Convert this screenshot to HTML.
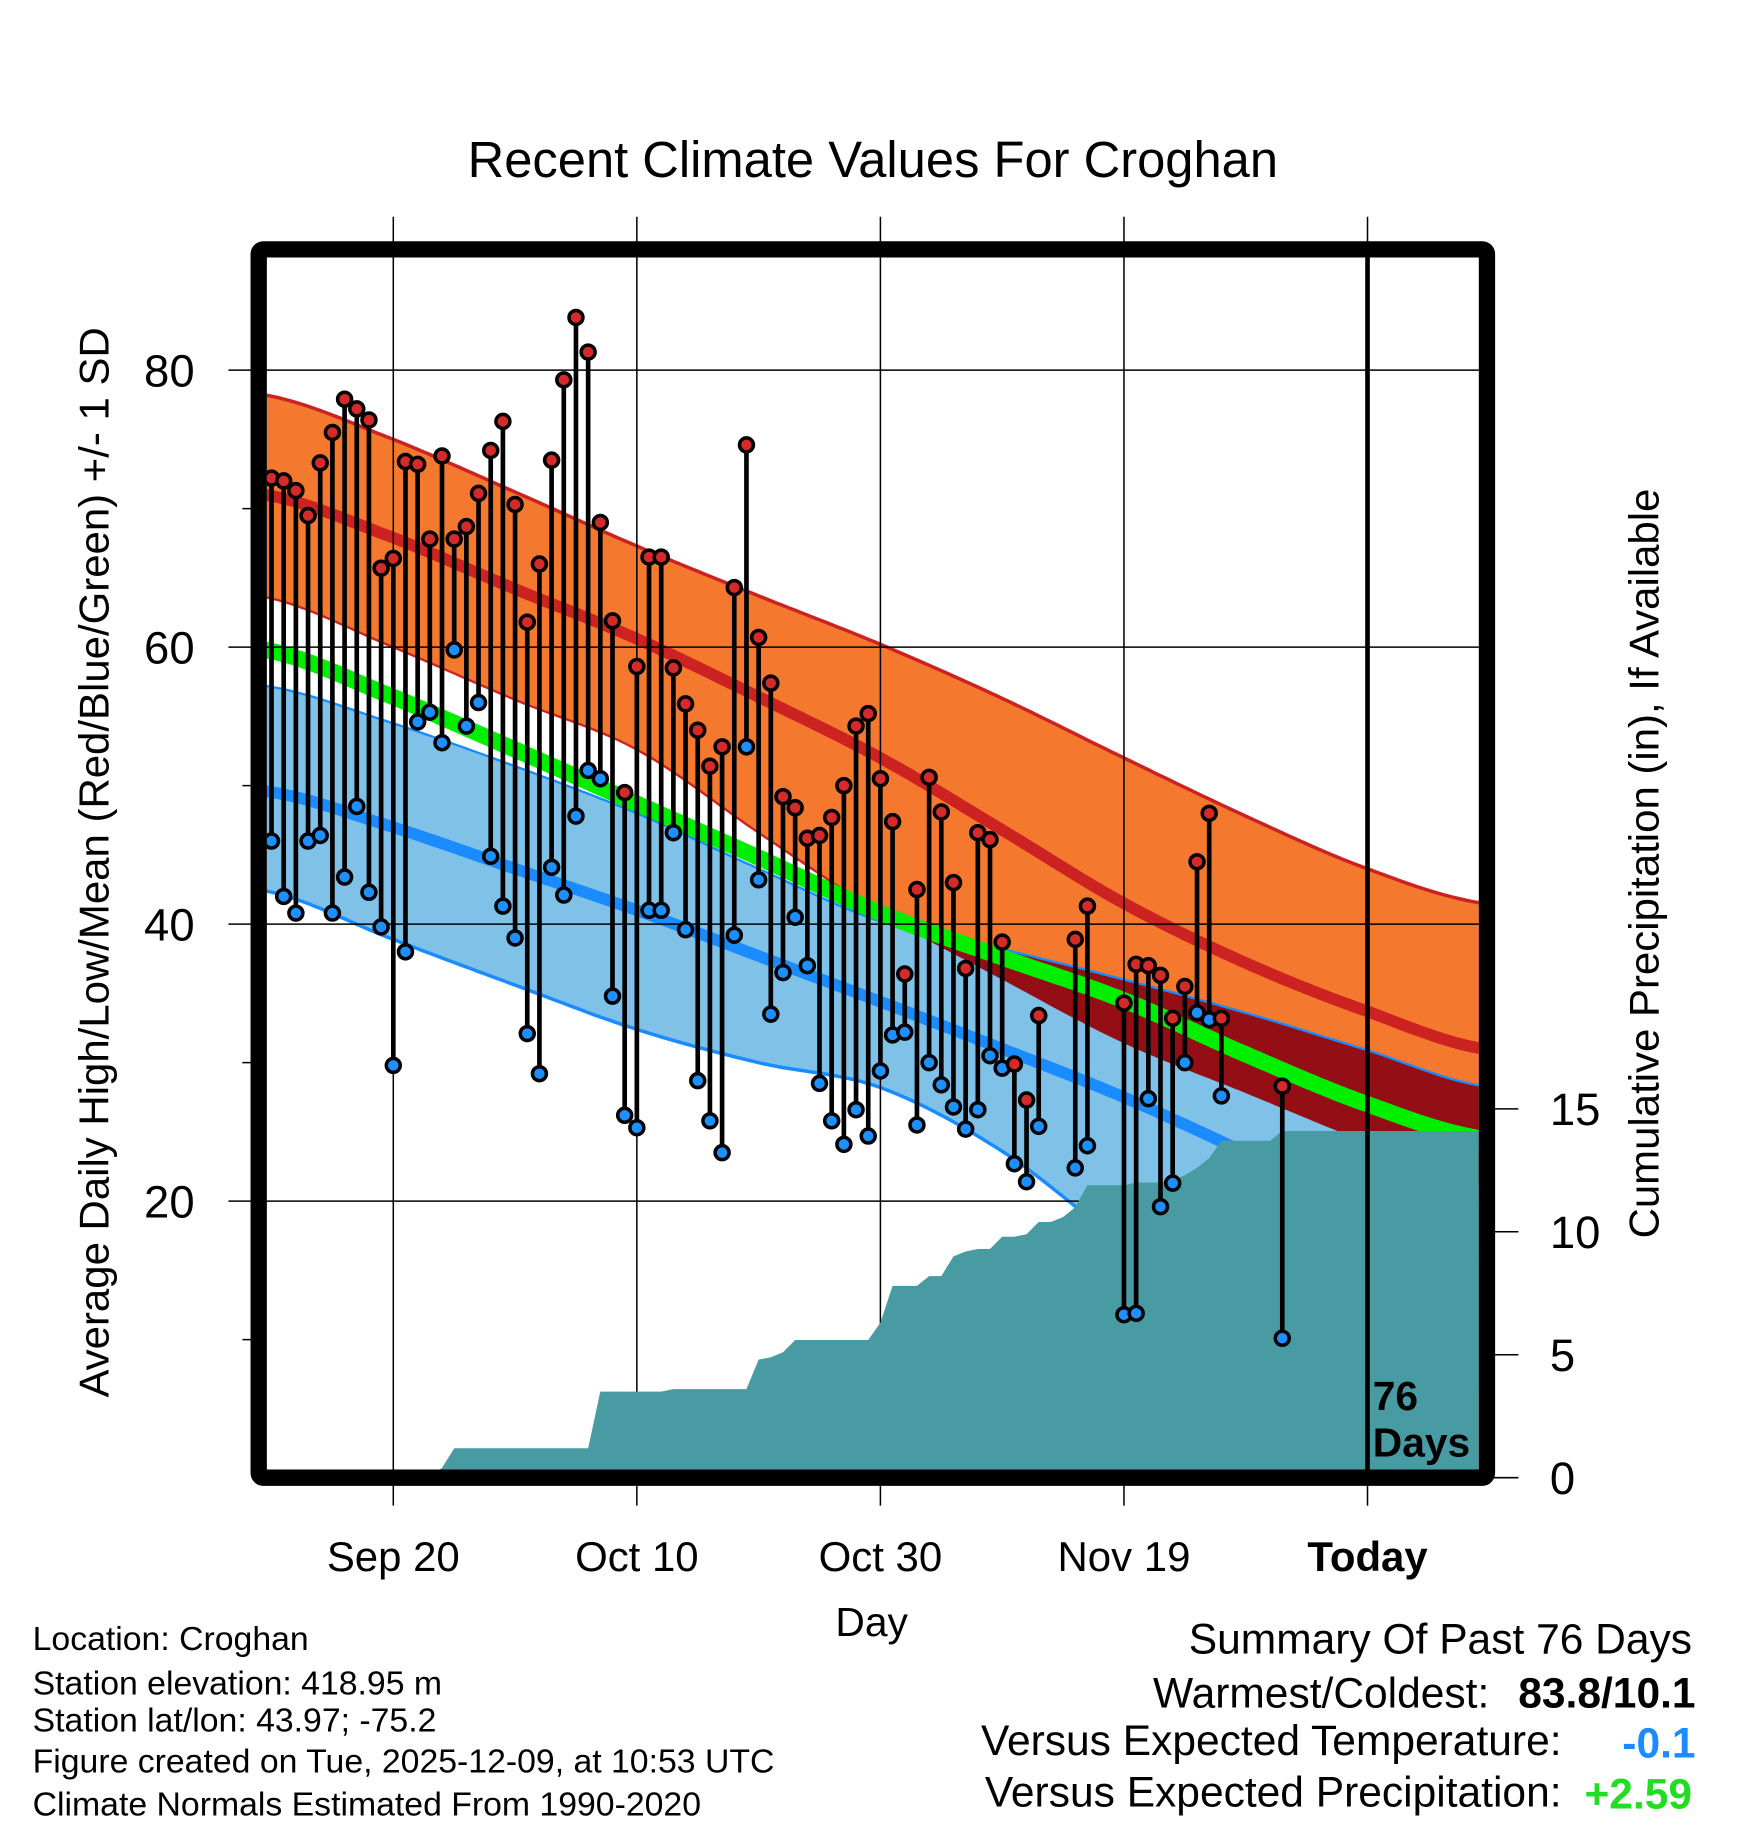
<!DOCTYPE html>
<html><head><meta charset="utf-8"><style>
html,body{margin:0;padding:0;background:#fff}
svg{display:block}
text{font-family:"Liberation Sans",sans-serif}
</style></head><body>
<svg id="chart" xmlns="http://www.w3.org/2000/svg" width="1748" height="1828" viewBox="0 0 1500 1568.6" preserveAspectRatio="none">
<defs><clipPath id="plotclip"><rect x="229" y="220" width="1040" height="1041"/></clipPath></defs>
<rect x="0" y="0" width="1500" height="1568.6" fill="#fff"/>
<text x="749" y="152" font-size="43.5" text-anchor="middle">Recent Climate Values For Croghan</text>
<g id="bands" clip-path="url(#plotclip)"></g>
<g id="grid"></g>
<g id="precip" clip-path="url(#plotclip)"></g>
<g id="marks" clip-path="url(#plotclip)"></g>
<g id="axes"></g>
<rect x="222" y="214" width="1054" height="1054" rx="4" fill="none" stroke="#000" stroke-width="14"/>
<text transform="translate(93,740) rotate(-90)" font-size="36" text-anchor="middle">Average Daily High/Low/Mean (Red/Blue/Green) +/- 1 SD</text>
<text transform="translate(1423,741) rotate(-90)" font-size="36" text-anchor="middle">Cumulative Precipitation (in), If Available</text>
<text x="748" y="1404" font-size="35" text-anchor="middle">Day</text>
<text x="1178" y="1210" font-size="35" font-weight="bold">76</text>
<text x="1178" y="1250" font-size="35" font-weight="bold">Days</text>
<g font-size="29">
<text x="28" y="1416">Location: Croghan</text>
<text x="28" y="1454">Station elevation: 418.95 m</text>
<text x="28" y="1486">Station lat/lon: 43.97; -75.2</text>
<text x="28" y="1521">Figure created on Tue, 2025-12-09, at 10:53 UTC</text>
<text x="28" y="1558">Climate Normals Estimated From 1990-2020</text>
</g>
<g font-size="36.5">
<text x="1452" y="1419" text-anchor="end">Summary Of Past 76 Days</text>
<text x="1278" y="1465" text-anchor="end">Warmest/Coldest:</text>
<text x="1455" y="1465" text-anchor="end" font-weight="bold">83.8/10.1</text>
<text x="1340" y="1506" text-anchor="end">Versus Expected Temperature:</text>
<text x="1455" y="1508" text-anchor="end" font-weight="bold" fill="#1a8cff">-0.1</text>
<text x="1340" y="1550" text-anchor="end">Versus Expected Precipitation:</text>
<text x="1452" y="1552" text-anchor="end" font-weight="bold" fill="#22dd22">+2.59</text>
</g>
</svg>
<script>
// ---- data ----
const sampleDays = [-0.5,10,20,30,40,50,60,70,80,90,99.5];
const highUpper = [78.2,75.0,71.2,67.3,63.7,60.2,56.3,52.0,47.8,44.0,41.5];
const highMean  = [71.0,67.9,64.2,60.6,56.4,52.0,46.8,41.5,37.2,33.7,31.0];
const highLower = [63.6,60.0,56.2,52.6,46.6,40.8,36.0,31.4,27.8,24.2,21.0];
const avgMean   = [59.8,56.4,52.6,48.7,44.8,40.8,37.6,34.5,30.6,27.0,24.5];
const lowUpper  = [57.2,54.5,51.4,48.0,44.0,40.2,38.2,36.0,33.6,30.9,28.3];
const lowMean   = [49.6,47.0,44.0,41.0,37.7,34.4,31.0,27.5,23.5,19.5,16.0];
const lowLower  = [42.4,38.9,35.6,32.4,30.0,28.2,23.6,17.0,12.0,9.0,6.5];
const highs = [72.2,72.0,71.3,69.5,73.3,75.5,77.9,77.2,76.4,65.7,66.4,73.4,73.2,67.8,73.8,67.8,68.7,71.1,74.2,76.3,70.3,61.8,66.0,73.5,79.3,83.8,81.3,69.0,61.9,49.5,58.6,66.5,66.5,58.5,55.9,54.0,51.4,52.8,64.3,74.6,60.7,57.4,49.2,48.4,46.2,46.4,47.7,50.0,54.3,55.2,50.5,47.4,36.4,42.5,50.6,48.1,43.0,36.8,46.6,46.1,38.7,29.9,27.3,33.4,null,null,38.9,41.3,null,null,34.3,37.1,37.0,36.3,33.2,35.5,44.5,48.0,33.2,null,null,null,null,28.3];
const lows = [46.0,42.0,40.8,46.0,46.4,40.8,43.4,48.5,42.3,39.8,29.8,38.0,54.6,55.3,53.1,59.8,54.3,56.0,44.9,41.3,39.0,32.1,29.2,44.1,42.1,47.8,51.1,50.5,34.8,26.2,25.3,41.0,41.0,46.6,39.6,28.7,25.8,23.5,39.2,52.8,43.2,33.5,36.5,40.5,37.0,28.5,25.8,24.1,26.6,24.7,29.4,32.0,32.2,25.5,30.0,28.4,26.8,25.2,26.6,30.5,29.6,22.7,21.4,25.4,null,null,22.4,24.0,null,null,11.8,11.9,27.4,19.6,21.3,30.0,33.6,33.1,27.6,null,null,null,null,10.1];
const cumPrecip = [0,0,0,0,0,0,0,0,0,0,0,0,0,0.05,0.4,1.2,1.2,1.2,1.2,1.2,1.2,1.2,1.2,1.2,1.2,1.2,1.2,3.5,3.5,3.5,3.5,3.5,3.5,3.6,3.6,3.6,3.6,3.6,3.6,3.6,4.8,4.9,5.1,5.6,5.6,5.6,5.6,5.6,5.6,5.6,6.3,7.8,7.8,7.8,8.2,8.2,9.0,9.2,9.3,9.3,9.8,9.8,9.9,10.4,10.4,10.6,11.0,11.9,11.9,11.9,11.9,12.0,12.0,12.0,12.1,12.3,12.6,13.0,13.7,13.7,13.7,13.7,13.7,14.1];
const xTickDays = [10,30,50,70,90];
const xTickLabels = ["Sep 20","Oct 10","Oct 30","Nov 19","Today"];
const yTicks = [20,40,60,80];
const yMinorTicks = [10,30,50,70];
const pTicks = [0,5,10,15];

// ---- scales ----
const X = d => 233 + 10.45*d;
const YT = v => 1268.4 - 11.885*v;
const YP = p => 1268 - 21.1*p;
const NS = "http://www.w3.org/2000/svg";
function mk(tag, attrs, parent){ const e=document.createElementNS(NS,tag); for(const k in attrs) e.setAttribute(k,attrs[k]); parent.appendChild(e); return e; }
function interp(arr, d){
  const n=sampleDays.length;
  let i=0; while(i<n-2 && d>sampleDays[i+1]) i++;
  const t=(d-sampleDays[i])/(sampleDays[i+1]-sampleDays[i]);
  const p0=arr[Math.max(i-1,0)], p1=arr[i], p2=arr[i+1], p3=arr[Math.min(i+2,n-1)];
  const t2=t*t, t3=t2*t;
  return 0.5*((2*p1)+(-p0+p2)*t+(2*p0-5*p1+4*p2-p3)*t2+(-p0+3*p1-3*p2+p3)*t3);
}
const fine=[]; for(let d=-0.5; d<=99.5; d+=0.5) fine.push(d);
const linePts = arr => fine.map(d=>X(d).toFixed(1)+","+YT(interp(arr,d)).toFixed(1)).join(" ");
const bandPts = (a,b) => fine.map(d=>X(d).toFixed(1)+","+YT(interp(a,d)).toFixed(1)).concat(fine.slice().reverse().map(d=>X(d).toFixed(1)+","+YT(interp(b,d)).toFixed(1))).join(" ");

const bands=document.getElementById('bands');
let e;
e=mk('polygon',{points:bandPts(highUpper,highLower),fill:'#f4782e'},bands);
 
e=mk('polyline',{points:linePts(highUpper),fill:'none',stroke:'#cc2222','stroke-width':3},bands);
 
e=mk('polyline',{points:linePts(highLower),fill:'none',stroke:'#cc2222','stroke-width':2},bands);
 
e=mk('polygon',{points:bandPts(lowUpper,lowLower),fill:'#80c1e8'},bands);
 
e=mk('polyline',{points:linePts(lowLower),fill:'none',stroke:'#1a8cff','stroke-width':3},bands);
 
const ovTop = fine.map(d=>X(d).toFixed(1)+","+YT(Math.max(interp(lowUpper,d),interp(highLower,d))).toFixed(1));
const ovBot = fine.slice().reverse().map(d=>X(d).toFixed(1)+","+YT(interp(highLower,d)).toFixed(1));
e=mk('polygon',{points:ovTop.concat(ovBot).join(" "),fill:'#930e15'},bands);
 
e=mk('polyline',{points:linePts(lowUpper),fill:'none',stroke:'#1a8cff','stroke-width':2},bands);
 
e=mk('polyline',{points:linePts(avgMean),fill:'none',stroke:'#00ee00','stroke-width':14},bands);
 
e=mk('polyline',{points:linePts(highMean),fill:'none',stroke:'#cc2222','stroke-width':10},bands);
 
e=mk('polyline',{points:linePts(lowMean),fill:'none',stroke:'#1a8cff','stroke-width':10},bands);
 

const grid=document.getElementById('grid'), axes=document.getElementById('axes');
yTicks.forEach((v,i)=>{
  e=mk('line',{x1:196,x2:1269,y1:YT(v),y2:YT(v),stroke:'#000','stroke-width':1.3},grid);
   
  e=mk('text',{x:167,y:YT(v)+14,'font-size':39,'text-anchor':'end'},axes); e.textContent=v;
   
});
yMinorTicks.forEach(v=>{
  e=mk('line',{x1:208,x2:222,y1:YT(v),y2:YT(v),stroke:'#000','stroke-width':1.3},grid);
   
});
xTickDays.forEach((d,i)=>{
  if(i<4){
    e=mk('line',{x1:X(d),x2:X(d),y1:186,y2:1292,stroke:'#000','stroke-width':1.3},grid);
     
  } else {
    e=mk('line',{x1:X(d),x2:X(d),y1:186,y2:214,stroke:'#000','stroke-width':1.3},grid);
     
    e=mk('line',{x1:X(d),x2:X(d),y1:1268,y2:1292,stroke:'#000','stroke-width':1.3},grid);
     
  }
  e=mk('text',{x:X(d),y:1348,'font-size':36,'text-anchor':'middle'},axes); e.textContent=xTickLabels[i];
  if(i===4) e.setAttribute('font-weight','bold');
   
});
pTicks.forEach(p=>{
  e=mk('line',{x1:1276,x2:1303,y1:YP(p),y2:YP(p),stroke:'#000','stroke-width':1.3},axes);
   
  e=mk('text',{x:1330,y:YP(p)+14,'font-size':39},axes); e.textContent=p;
   
});

const pg=document.getElementById('precip');
const pp=cumPrecip.map((p,i)=>X(i).toFixed(1)+","+YP(p).toFixed(1));
pp.unshift(X(-1)+","+YP(cumPrecip[0]));
pp.push("1275,"+YP(cumPrecip[cumPrecip.length-1]).toFixed(1));
pp.push("1275,1275"); pp.push(X(-1)+",1275");
e=mk('polygon',{points:pp.join(" "),fill:'#489ba3'},pg);
 

const mg=document.getElementById('marks');
highs.forEach((h,i)=>{
  const l=lows[i]; if(h===null||l===null) return;
  const x=X(i);
  e=mk('line',{x1:x,x2:x,y1:YT(h),y2:YT(l),stroke:'#000','stroke-width':4},mg);
   
  e=mk('circle',{cx:x,cy:YT(l),r:6,fill:'#1e8fff',stroke:'#000','stroke-width':3},mg);
   
  e=mk('circle',{cx:x,cy:YT(h),r:6,fill:'#d42a2a',stroke:'#000','stroke-width':3},mg);
   
});
e=mk('line',{x1:X(90),x2:X(90),y1:214,y2:1268,stroke:'#000','stroke-width':4},mg);
 
</script>
</body></html>
